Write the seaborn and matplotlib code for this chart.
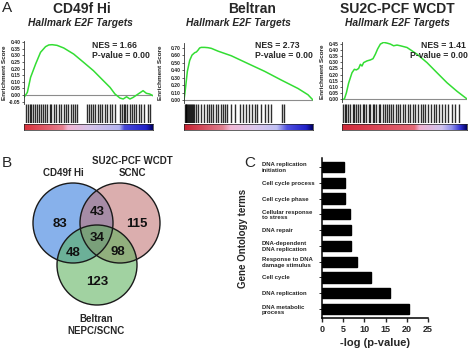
import numpy as np
import pandas as pd
import matplotlib
matplotlib.use("Agg")
import matplotlib.pyplot as plt
from matplotlib.colors import LinearSegmentedColormap
from matplotlib.patches import Circle
import seaborn as sns

# ---------------- data ----------------
# Panel A: running enrichment score (rank fraction, ES) for each cohort
cd49f_rank = [0.0, 0.026, 0.051, 0.09, 0.128, 0.167, 0.192, 0.218, 0.256, 0.308, 0.385,
              0.462, 0.538, 0.615, 0.667, 0.705, 0.744, 0.769, 0.795, 0.821, 0.846,
              0.885, 0.923, 0.949, 0.974, 1.0]
cd49f_es = [-0.018, 0.020, 0.134, 0.235, 0.324, 0.367, 0.380, 0.382, 0.377, 0.357, 0.311,
            0.248, 0.185, 0.109, 0.058, 0.008, -0.023, -0.030, -0.013, -0.030, -0.018,
            0.008, 0.033, 0.013, 0.008, -0.005]

beltran_rank = [0.0, 0.010, 0.026, 0.044, 0.062, 0.083, 0.096, 0.109, 0.121, 0.134, 0.160,
                0.186, 0.212, 0.263, 0.367, 0.496, 0.625, 0.755, 0.884, 0.961, 1.0]
beltran_es = [0.0, 0.134, 0.386, 0.532, 0.604, 0.637, 0.646, 0.671, 0.700, 0.708, 0.708,
              0.704, 0.695, 0.658, 0.595, 0.490, 0.386, 0.268, 0.155, 0.071, 0.0]

su2c_rank = [0.0, 0.019, 0.035, 0.053, 0.080, 0.099, 0.115, 0.133, 0.147, 0.160, 0.173,
             0.200, 0.227, 0.248, 0.267, 0.285, 0.307, 0.333, 0.360, 0.387, 0.413,
             0.440, 0.467, 0.520, 0.600, 0.680, 0.760, 0.840, 0.920, 1.0]
su2c_es = [-0.005, 0.0, 0.050, 0.130, 0.215, 0.243, 0.238, 0.250, 0.284, 0.270, 0.298,
           0.312, 0.320, 0.330, 0.367, 0.410, 0.450, 0.464, 0.458, 0.450, 0.436,
           0.442, 0.436, 0.422, 0.367, 0.298, 0.215, 0.133, 0.063, 0.0]

# gene-set hit positions along the ranked list (fraction of list length)
cd49f_hits = [0.018, 0.031, 0.044, 0.057, 0.070, 0.083, 0.103, 0.114, 0.129, 0.147, 0.160,
              0.181, 0.199, 0.212, 0.233, 0.251, 0.269, 0.289, 0.310, 0.328, 0.341,
              0.367, 0.380, 0.398, 0.413, 0.491, 0.501, 0.522, 0.537, 0.553, 0.574,
              0.589, 0.605, 0.625, 0.646, 0.664, 0.682, 0.703, 0.741, 0.760, 0.775,
              0.786, 0.801, 0.819, 0.837, 0.853, 0.871, 0.889, 0.910, 0.930, 0.961, 0.979]
beltran_hits = [0.005, 0.012, 0.018, 0.026, 0.034, 0.041, 0.049, 0.057, 0.065, 0.072,
                0.080, 0.093, 0.111, 0.132, 0.157, 0.178, 0.194, 0.207, 0.227, 0.245,
                0.264, 0.284, 0.300, 0.320, 0.336, 0.362, 0.393, 0.434, 0.455, 0.481,
                0.506, 0.527, 0.548, 0.566, 0.599, 0.630, 0.651, 0.677, 0.758, 0.777]
su2c_hits = [0.008, 0.022, 0.035, 0.049, 0.063, 0.084, 0.095, 0.111, 0.130, 0.144, 0.166,
             0.177, 0.193, 0.212, 0.226, 0.248, 0.258, 0.275, 0.293, 0.307, 0.329,
             0.340, 0.356, 0.375, 0.389, 0.410, 0.429, 0.448, 0.465, 0.484, 0.503,
             0.524, 0.546, 0.565, 0.584, 0.606, 0.628, 0.647, 0.666, 0.688, 0.715,
             0.736, 0.755, 0.774, 0.796, 0.823, 0.851, 0.878, 0.905, 0.932]

cohort_titles = ["CD49f Hi", "Beltran", "SU2C-PCF WCDT"]
gene_set = "Hallmark E2F Targets"
nes_values = [1.66, 2.73, 1.41]
p_values = [0.00, 0.00, 0.00]

# Panel B: overlap counts
venn_sets = ["CD49f Hi", "SU2C-PCF WCDT\nSCNC", "Beltran\nNEPC/SCNC"]
only_cd49f, only_su2c, only_beltran = 83, 115, 123
cd49f_su2c, cd49f_beltran, su2c_beltran, all_three = 43, 48, 98, 34

# Panel C: GO enrichment
go_terms = ["DNA replication\ninitiation", "Cell cycle process", "Cell cycle phase",
            "Cellular response\nto stress", "DNA repair", "DNA-dependent\nDNA replication",
            "Response to DNA\ndamage stimulus", "Cell cycle", "DNA replication",
            "DNA metabolic\nprocess"]
go_logp = [5.3, 5.5, 5.5, 6.6, 6.8, 6.8, 8.2, 11.6, 16.0, 20.6]

# ---------------- figure ----------------
sns.set_theme(style="white")
plt.rcParams["font.family"] = ["Liberation Sans", "DejaVu Sans"]
plt.rcParams["font.weight"] = "bold"

W, H = 474, 348
fig = plt.figure(figsize=(W / 100, H / 100), dpi=100)
fig.patch.set_facecolor("white")


def px_axes(x0, y0, x1, y1):
    return fig.add_axes([x0 / W, 1 - y1 / H, (x1 - x0) / W, (y1 - y0) / H])


def px_text(x, y, s, **kw):
    fig.text(x / W, 1 - y / H, s, **kw)


# ---- Panel A ----
rank_cmaps = [
    LinearSegmentedColormap.from_list("r1", [(0, "#d8303a"), (0.30, "#e88090"), (0.34, "#f2b4d2"),
                                             (0.50, "#d8c4ea"), (0.74, "#b4b4f0"), (0.78, "#4848d8"),
                                             (0.95, "#2020c8"), (1.0, "#000060")]),
    LinearSegmentedColormap.from_list("r2", [(0, "#c82030"), (0.30, "#e08090"), (0.36, "#f2b8d6"),
                                             (0.55, "#dcc8ee"), (0.72, "#c0c0f4"), (0.80, "#5050e0"),
                                             (0.95, "#2020c8"), (1.0, "#000060")]),
    LinearSegmentedColormap.from_list("r3", [(0, "#d02838"), (0.58, "#e46a78"), (0.62, "#f0b0d0"),
                                             (0.80, "#d0c4f0"), (0.88, "#9090ec"), (0.95, "#3030d0"),
                                             (1.0, "#000060")]),
]

panels = [
    dict(rank=cd49f_rank, es=cd49f_es, hits=cd49f_hits, x=(24, 153), y=(41, 104),
         ylim=(-0.068, 0.41), ticks=np.arange(-0.05, 0.401, 0.05), ylab_x=5,
         title_x=82, sub_x=80, nes_x=92, p_x=92),
    dict(rank=beltran_rank, es=beltran_es, hits=beltran_hits, x=(184, 313), y=(43, 103),
         ylim=(-0.04, 0.767), ticks=np.arange(0.0, 0.701, 0.10), ylab_x=160,
         title_x=252, sub_x=238, nes_x=255, p_x=255),
    dict(rank=su2c_rank, es=su2c_es, hits=su2c_hits, x=(342, 467), y=(42, 102),
         ylim=(-0.025, 0.467), ticks=np.arange(0.0, 0.451, 0.05), ylab_x=323,
         title_x=397, sub_x=397, nes_x=421, p_x=410),
]

for i, p in enumerate(panels):
    x0, x1 = p["x"]
    y0, y1 = p["y"]
    ax = px_axes(x0, y0, x1, y1)
    df = pd.DataFrame({"rank": p["rank"], "es": p["es"]})
    sns.lineplot(data=df, x="rank", y="es", ax=ax, color="#33dd33", linewidth=1.1)
    ax.axhline(0, color="#8c8c8c", linewidth=0.8, zorder=0)
    ax.set_xlim(0, 1)
    ax.set_ylim(*p["ylim"])
    ax.set_yticks(p["ticks"])
    ax.set_yticklabels([f"{t:.2f}" for t in p["ticks"]], fontsize=3.6, fontweight="bold")
    ax.set_xticks([])
    ax.set_xlabel("")
    ax.set_ylabel("")
    for side in ["top", "right", "bottom"]:
        ax.spines[side].set_visible(False)
    ax.spines["left"].set_linewidth(0.6)
    ax.spines["left"].set_color("#333333")
    ax.tick_params(axis="y", length=1.5, width=0.5, pad=1, left=True)
    ax.patch.set_alpha(0)

    bc = px_axes(x0, 104, x1, 123.5)
    bc.vlines(p["hits"], 0, 1, color="black", linewidth=1.0, alpha=0.82)
    bc.set_xlim(0, 1)
    bc.set_ylim(0, 1)
    bc.axis("off")

    cb = px_axes(x0, 124, x1, 130)
    cb.imshow(np.linspace(0, 1, 256)[None, :], aspect="auto", cmap=rank_cmaps[i],
              extent=(0, 1, 0, 1))
    cb.set_xticks([])
    cb.set_yticks([])
    for s in cb.spines.values():
        s.set_linewidth(0.5)
        s.set_color("#222222")

    px_text(p["ylab_x"], (y0 + y1) / 2, "Enrichment Score", rotation=90, fontsize=4.6,
            fontweight="bold", ha="center", va="center", color="#222222")
    px_text(p["title_x"], 9, cohort_titles[i], fontsize=10, fontweight="bold",
            ha="center", va="center")
    px_text(p["sub_x"], 22.5, gene_set, fontsize=7.4, fontweight="bold", style="italic",
            ha="center", va="center")
    px_text(p["nes_x"], 45, f"NES = {nes_values[i]:.2f}", fontsize=6.2, fontweight="bold",
            ha="left", va="center")
    px_text(p["p_x"], 55, f"P-value = {p_values[i]:.2f}", fontsize=6.2, fontweight="bold",
            ha="left", va="center")

px_text(2, 8, "A", fontsize=11, fontweight="normal", ha="left", va="center")

# ---- Panel B: Venn ----
axv = px_axes(0, 140, 240, 348)
axv.set_xlim(0, 240)
axv.set_ylim(348, 140)
axv.axis("off")
circle_spec = [((73, 223), "#2a74dc"), ((120, 223), "#c07070"), ((97, 265), "#58b058")]
for (cx, cy), col in circle_spec:
    axv.add_patch(Circle((cx, cy), 40, facecolor=col, alpha=0.56, edgecolor="none"))
for (cx, cy), col in circle_spec:
    axv.add_patch(Circle((cx, cy), 40, facecolor="none", edgecolor="#1a1a1a", linewidth=1.0))

region_counts = [
    ((60, 224), only_cd49f), ((137, 224), only_su2c), ((97, 282), only_beltran),
    ((97, 212), cd49f_su2c), ((73, 253), cd49f_beltran), ((118, 252), su2c_beltran),
    ((97, 238), all_three),
]
for (tx, ty), n in region_counts:
    axv.text(tx, ty, str(n), fontsize=9.5, fontweight="bold", ha="center", va="center",
             color="#111111")
axv.text(63, 173, venn_sets[0], fontsize=7, fontweight="bold", ha="center", va="center")
axv.text(132, 167, venn_sets[1], fontsize=7, fontweight="bold", ha="center", va="center",
         linespacing=1.15)
axv.text(96, 325, venn_sets[2], fontsize=7, fontweight="bold", ha="center", va="center",
         linespacing=1.15)
px_text(2, 163, "B", fontsize=11, fontweight="normal", ha="left", va="center")

# ---- Panel C: GO bar chart ----
axc = px_axes(322, 158, 428, 318)
go_df = pd.DataFrame({"term": go_terms, "logp": go_logp})
sns.barplot(data=go_df, y="term", x="logp", orient="h", color="black", width=0.65,
            saturation=1, ax=axc)
for patch in axc.patches:
    patch.set_facecolor("black")
    patch.set_edgecolor("black")
axc.set_xlim(0, 25)
axc.set_ylim(len(go_terms) - 0.43, -0.57)
axc.set_xticks([0, 5, 10, 15, 20, 25])
axc.set_xticklabels(["0", "5", "10", "15", "20", "25"], fontsize=6.5, fontweight="bold")
axc.set_ylabel("")
axc.set_xlabel("-log (p-value)", fontsize=8, fontweight="bold", labelpad=3)
for lab in axc.get_yticklabels():
    lab.set_horizontalalignment("left")
    lab.set_fontsize(4.3)
    lab.set_fontweight("bold")
    lab.set_linespacing(1.1)
axc.tick_params(axis="y", length=2.2, width=0.7, pad=41, left=True)
axc.tick_params(axis="x", length=3, width=1.0, pad=2, bottom=True)
for side in ["top", "right"]:
    axc.spines[side].set_visible(False)
for side in ["left", "bottom"]:
    axc.spines[side].set_linewidth(1.1)
    axc.spines[side].set_color("black")
px_text(243, 238, "Gene Ontology terms", rotation=90, fontsize=7, fontweight="bold",
        ha="center", va="center")
px_text(244, 163, "C", fontsize=11, fontweight="normal", ha="left", va="center")

fig.savefig("out.png", dpi=100, facecolor="white")
